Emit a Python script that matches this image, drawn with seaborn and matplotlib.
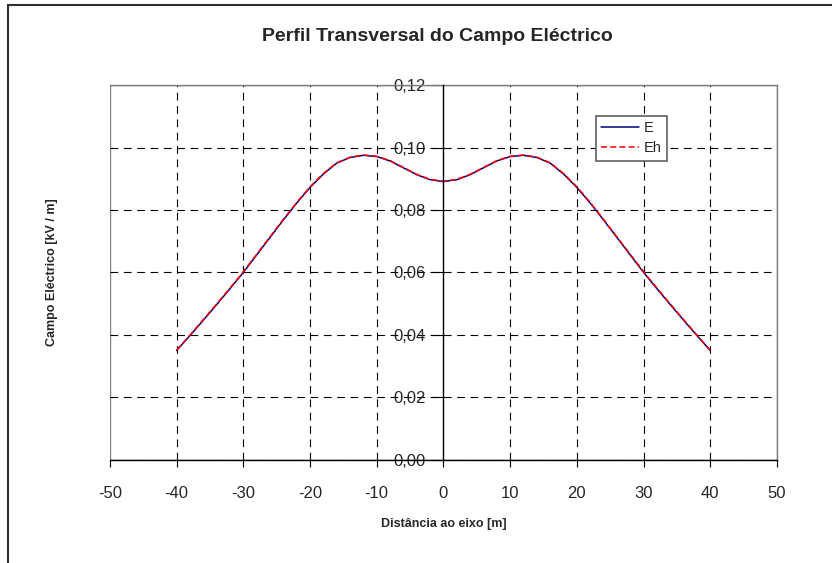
import matplotlib
matplotlib.use("Agg")
import matplotlib.pyplot as plt
from matplotlib.patches import Rectangle
from matplotlib.ticker import FuncFormatter, MultipleLocator
import seaborn as sns
import pandas as pd

# distância ao eixo [m]
dist = [-40, -38, -36, -34, -32, -30, -28, -26, -24, -22, -20, -18, -16, -14, -12, -10, -8, -6, -4, -2,
        0, 2, 4, 6, 8, 10, 12, 14, 16, 18, 20, 22, 24, 26, 28, 30, 32, 34, 36, 38, 40]
# campo eléctrico [kV/m]
E = [0.0350, 0.0398, 0.0447, 0.0497, 0.0548, 0.0600, 0.0656, 0.0712, 0.0768, 0.0822, 0.0872,
     0.0915, 0.0950, 0.0968, 0.0975, 0.0971, 0.0957, 0.0935, 0.0913, 0.0897,
     0.0891, 0.0897, 0.0913, 0.0935, 0.0957, 0.0971, 0.0975, 0.0968, 0.0950, 0.0915,
     0.0872, 0.0822, 0.0768, 0.0712, 0.0656, 0.0600, 0.0548, 0.0497, 0.0447, 0.0398, 0.0350]
Eh = [0.0351, 0.0399, 0.0449, 0.0499, 0.0550, 0.0602, 0.0658, 0.0714, 0.0770, 0.0824, 0.0874,
      0.0917, 0.0951, 0.0969, 0.0976, 0.0972, 0.0958, 0.0936, 0.0914, 0.0898,
      0.0892, 0.0898, 0.0914, 0.0936, 0.0958, 0.0972, 0.0976, 0.0969, 0.0951, 0.0917,
      0.0874, 0.0824, 0.0770, 0.0714, 0.0658, 0.0602, 0.0550, 0.0499, 0.0449, 0.0399, 0.0351]
grid_x = [-40, -30, -20, -10, 10, 20, 30, 40]

sns.set_style("white")
plt.rcParams['font.family'] = ['Liberation Sans', 'DejaVu Sans']
plt.rcParams['axes.unicode_minus'] = False

fig = plt.figure(figsize=(8.32, 5.63), dpi=100)
ax = fig.add_axes([0.132, 0.183, 0.802, 0.666])

df = pd.DataFrame({"x": dist, "E": E, "Eh": Eh})
sns.lineplot(data=df, x="x", y="E", ax=ax, color="#000080", lw=1.1, label="E")
sns.lineplot(data=df, x="x", y="Eh", ax=ax, color="#FF0000", lw=1.1, label="Eh",
             linestyle=(0, (4, 2)))

ax.set_xlim(-50, 50)
ax.set_ylim(0, 0.12)
ax.xaxis.set_major_locator(MultipleLocator(10))
ax.yaxis.set_major_locator(MultipleLocator(0.02))
ax.yaxis.set_major_formatter(FuncFormatter(lambda v, p: f"{v:.2f}".replace(".", ",")))

# grelha tracejada
dash = (0, (7, 5))
ax.grid(True, axis="y", color="black", lw=0.8, linestyle=dash)
for gx in grid_x:
    ax.axvline(gx, color="black", lw=0.8, linestyle=dash, zorder=0.6)
ax.set_axisbelow(True)

# eixo y no centro
ax.spines['left'].set_position(('data', 0))
ax.spines['left'].set_color("black")
ax.spines['left'].set_linewidth(1.0)
ax.spines['left'].set_zorder(3)
ax.spines['bottom'].set_color("black")
ax.spines['bottom'].set_linewidth(1.0)
for s in ['top', 'right']:
    ax.spines[s].set_color("#808080")
    ax.spines[s].set_linewidth(1.0)
ax.add_patch(Rectangle((0, 0), 1, 1, transform=ax.transAxes, fill=False,
                       ec="#808080", lw=1.0, zorder=0.5))

ax.tick_params(axis="both", direction="out", length=5, width=0.8, color="black",
               labelsize=12, bottom=True, left=True)
ax.tick_params(axis="x", pad=14)
ax.tick_params(axis="y", length=9, pad=4)

ax.set_xlabel("Distância ao eixo [m]", fontsize=9, fontweight="bold", labelpad=12)
ax.set_ylabel("")
fig.text(0.063, 0.516, "Campo Eléctrico [kV / m]", rotation=90, fontsize=9,
         fontweight="bold", ha="center", va="center")
fig.text(0.526, 0.935, "Perfil Transversal do Campo Eléctrico", fontsize=14,
         fontweight="bold", ha="center", va="center")

leg = ax.legend(loc="upper left", bbox_to_anchor=(0.729, 0.918), fancybox=False,
                framealpha=1, edgecolor="#606060", fontsize=10.5, handlelength=2.6,
                borderpad=0.35, labelspacing=0.45, handletextpad=0.3, borderaxespad=0)
leg.get_frame().set_linewidth(1.2)

# moldura da área do gráfico
fig.patches.append(Rectangle((8 / 832, -0.1), 1.2, 1 - 5 / 563 + 0.1,
                             transform=fig.transFigure, fill=False, ec="#303030", lw=1.5))

fig.savefig("out.png", dpi=100)
